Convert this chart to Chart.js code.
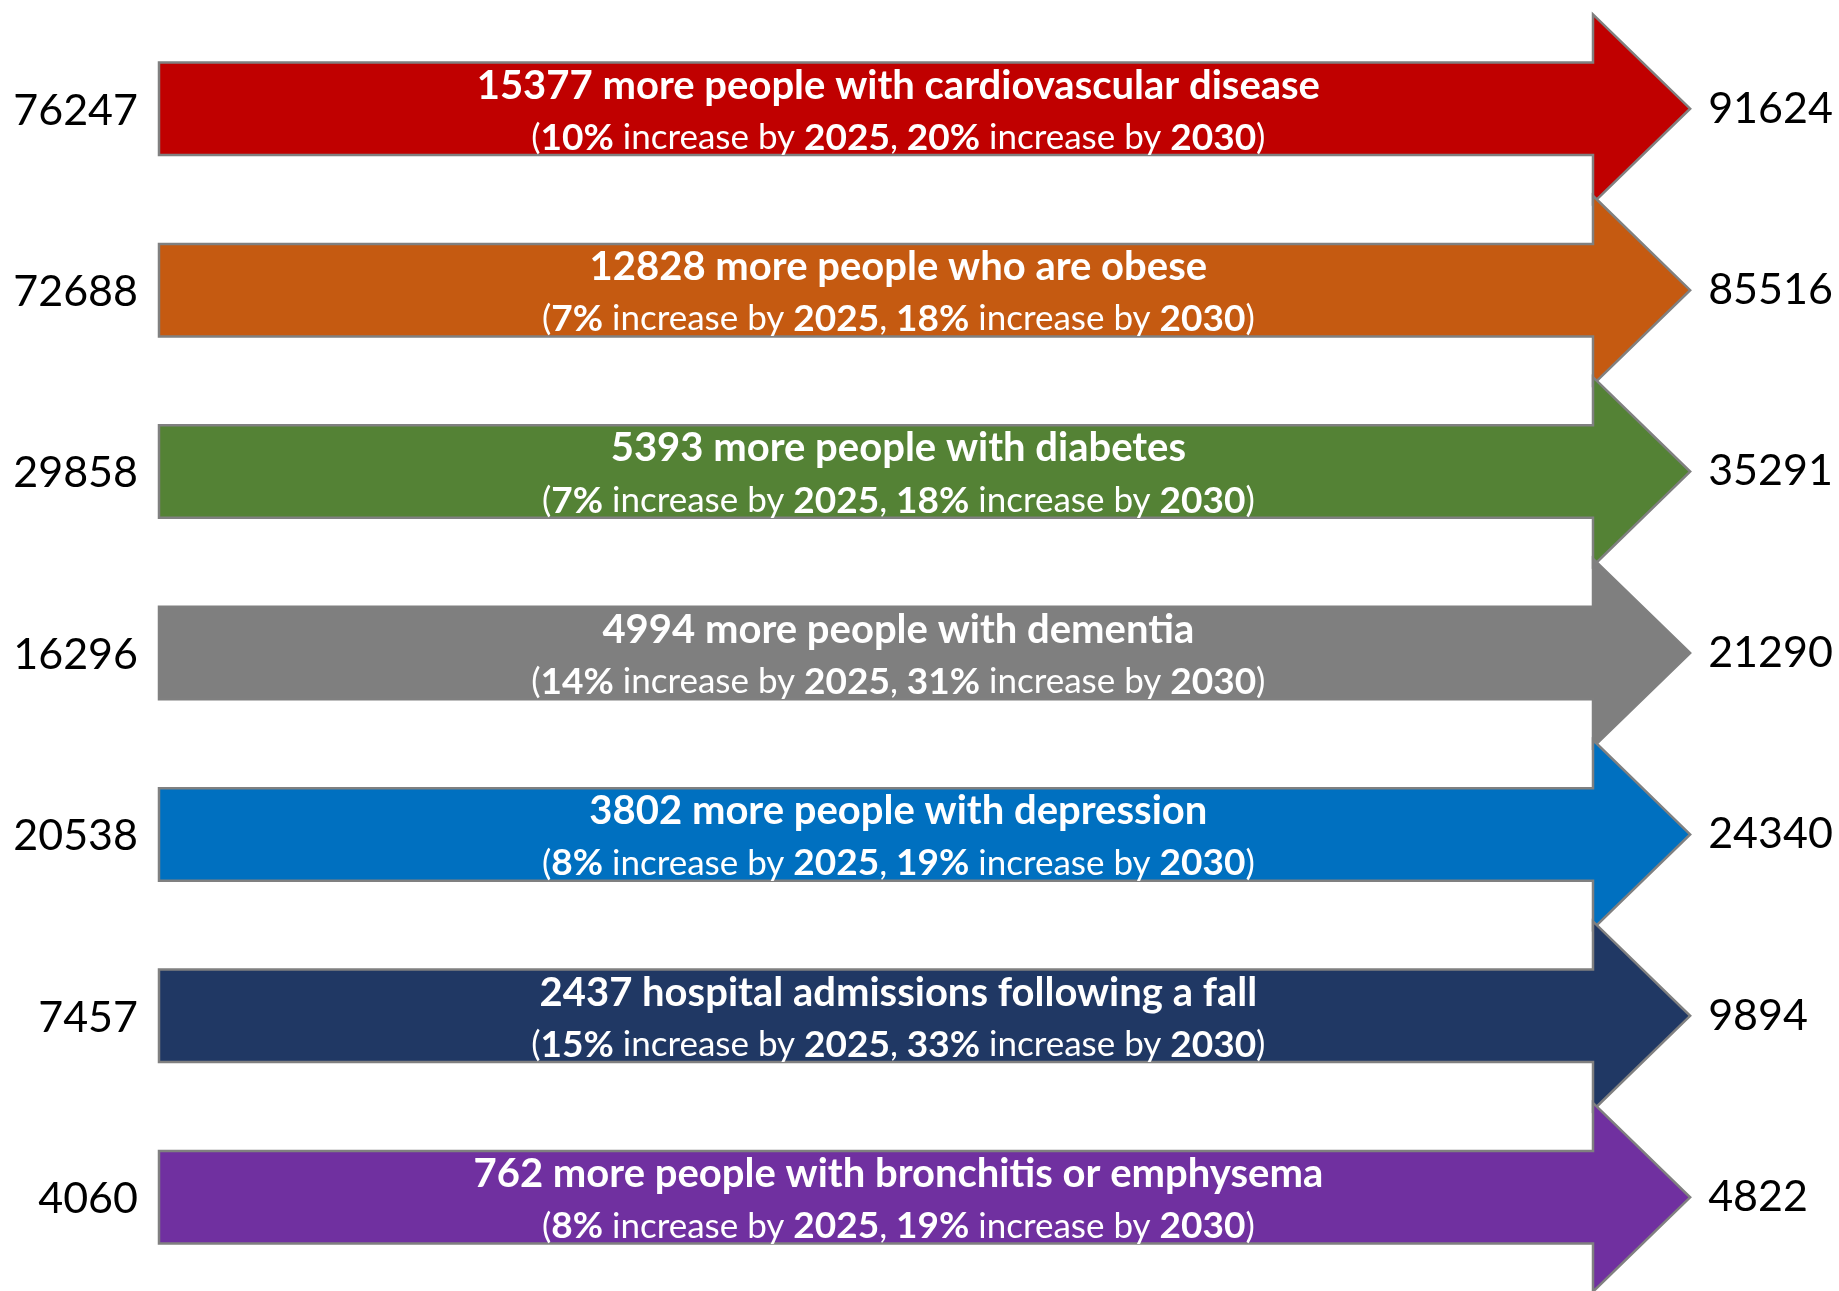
<!DOCTYPE html>
<html>
<head>
<meta charset="utf-8">
<script src="https://cdn.jsdelivr.net/npm/chart.js@4"></script>
<style>
  html, body { margin: 0; padding: 0; background: #ffffff; }
  #wrap { width: 1839px; height: 1291px; position: relative; }
</style>
</head>
<body>
<div id="wrap"><canvas id="c"></canvas></div>
<script>
// ---- data ----
const conditions = ['cardiovascular disease', 'obesity', 'diabetes', 'dementia', 'depression', 'falls', 'bronchitis or emphysema'];
const currentCounts = [76247, 72688, 29858, 16296, 20538, 7457, 4060];
const projectedCounts = [91624, 85516, 35291, 21290, 24340, 9894, 4822];
const increases = [15377, 12828, 5393, 4994, 3802, 2437, 762];
const descriptions = [
  'more people with cardiovascular disease',
  'more people who are obese',
  'more people with diabetes',
  'more people with dementia',
  'more people with depression',
  'hospital admissions following a fall',
  'more people with bronchitis or emphysema'
];
const pct2025 = [10, 7, 7, 14, 8, 15, 8];
const pct2030 = [20, 18, 18, 31, 19, 33, 19];
const years = ['2025', '2030'];
// every arrow spans the full period from the current count to the projected count
const periodSpan = [1, 1, 1, 1, 1, 1, 1];

// ---- styles ----
const arrowColors = ['#C00000', '#C55A11', '#548235', '#7F7F7F', '#0070C0', '#203864', '#7030A0'];
const outlineColor = '#808080';
const FONT = 'Lato, "Open Sans", "DejaVu Sans", sans-serif';

const arrowPlugin = {
  id: 'arrows',
  afterDatasetsDraw(chart) {
    const ctx = chart.ctx;
    const meta = chart.getDatasetMeta(0);
    meta.data.forEach((bar, i) => {
      const p = bar.getProps(['x', 'y', 'base', 'height'], true);
      const x0 = Math.min(p.base, p.x), x1 = Math.max(p.base, p.x);
      const h = p.height, cy = p.y;
      const top = cy - h / 2, bot = cy + h / 2;
      const headHalf = h * 1.02, headLen = h * 1.05;
      const tip = x1 + headLen;

      ctx.save();
      ctx.beginPath();
      ctx.moveTo(x0, top);
      ctx.lineTo(x1, top);
      ctx.lineTo(x1, cy - headHalf);
      ctx.lineTo(tip, cy);
      ctx.lineTo(x1, cy + headHalf);
      ctx.lineTo(x1, bot);
      ctx.lineTo(x0, bot);
      ctx.closePath();
      ctx.fillStyle = arrowColors[i];
      ctx.fill();
      ctx.lineWidth = 2.5;
      ctx.strokeStyle = outlineColor;
      ctx.lineJoin = 'miter';
      ctx.stroke();

      // texts inside
      const tcx = (x0 + x1) / 2 + headLen * 0.23;
      ctx.fillStyle = '#ffffff';
      ctx.textBaseline = 'middle';
      ctx.textAlign = 'center';
      ctx.font = 'bold 40px ' + FONT;
      ctx.fillText(increases[i] + ' ' + descriptions[i], tcx, cy - 23);

      const segs = [
        ['(', false], [pct2025[i] + '%', true], [' increase by ', false], [years[0], true],
        [', ', false], [pct2030[i] + '%', true], [' increase by ', false], [years[1], true], [')', false]
      ];
      const fontFor = b => (b ? 'bold 37px ' : '35px ') + FONT;
      let total = 0;
      segs.forEach(s => { ctx.font = fontFor(s[1]); total += ctx.measureText(s[0]).width; });
      let xx = tcx - total / 2;
      ctx.textAlign = 'left';
      segs.forEach(s => {
        ctx.font = fontFor(s[1]);
        ctx.fillText(s[0], xx, cy + 29);
        xx += ctx.measureText(s[0]).width;
      });

      // outside values
      ctx.fillStyle = '#000000';
      ctx.font = '43px ' + FONT;
      ctx.textAlign = 'right';
      ctx.fillText(String(currentCounts[i]), x0 - 21, cy + 2);
      ctx.textAlign = 'left';
      ctx.fillText(String(projectedCounts[i]), tip + 18, cy);
      ctx.restore();
    });
  }
};

new Chart(document.getElementById('c'), {
  type: 'bar',
  data: {
    labels: conditions,
    datasets: [{
      data: periodSpan.map(v => [0, v]),
      backgroundColor: arrowColors,
      borderWidth: 0,
      categoryPercentage: 1,
      barPercentage: 0.51
    }]
  },
  options: {
    indexAxis: 'y',
    responsive: true,
    maintainAspectRatio: false,
    animation: false,
    layout: { padding: { left: 159, right: 246, top: 18, bottom: 3 } },
    plugins: { legend: { display: false }, tooltip: { enabled: false } },
    scales: {
      x: { display: false, min: 0, max: 1 },
      y: { display: false }
    }
  },
  plugins: [arrowPlugin]
});
</script>
</body>
</html>
